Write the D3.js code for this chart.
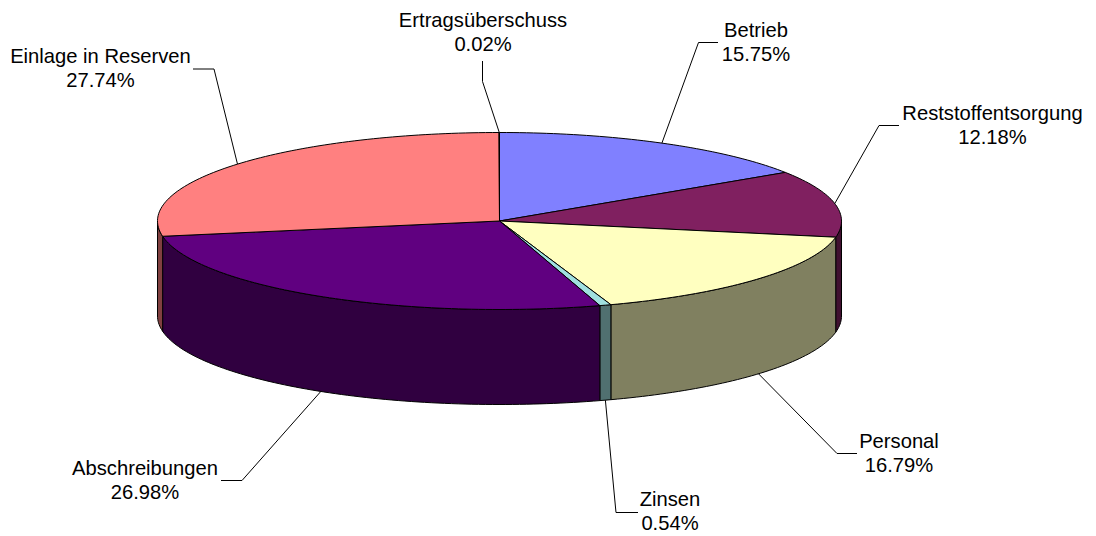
<!DOCTYPE html>
<html>
<head>
<meta charset="utf-8">
<script src="https://cdn.jsdelivr.net/npm/d3@7"></script>
<style>
    html, body { margin: 0; padding: 0; background: white; }
    text { font-family: "Liberation Sans", Arial, sans-serif; font-size: 20.2px; fill: black; }
</style>
</head>
<body>
<div id="chart"></div>
<script>
// data, clockwise from the top
var categories = ["Betrieb", "Reststoffentsorgung", "Personal", "Zinsen", "Abschreibungen", "Einlage in Reserven", "Ertragsüberschuss"];
var shares = [15.75, 12.18, 16.79, 0.54, 26.98, 27.74, 0.02];
var topColors = ["#8080ff", "#802060", "#ffffc0", "#a0e0e0", "#600080", "#ff8080", "#c0c0ff"];
var sideColors = ["#404080", "#401030", "#808060", "#507070", "#300040", "#804040", "#606080"];

// leader elbow and end, label centre and first baseline for each slice
var labelLayout = [
    {elbow: [698.5, 42.5], end: [718, 42.5], x: 756, y: 37},
    {elbow: [879, 125.5], end: [899, 125.5], x: 992.5, y: 120},
    {elbow: [837, 453.5], end: [857, 453.5], x: 899, y: 448},
    {elbow: [616, 512.5], end: [638, 512.5], x: 670, y: 506},
    {elbow: [242, 480.5], end: [221, 480.5], x: 145, y: 475},
    {elbow: [214, 69], end: [193, 69], x: 100.5, y: 63},
    {elbow: [482.5, 81.5], end: [482.5, 61], x: 483, y: 27}
];

var width = 1096,
    height = 536;
var rx = 342,
    ry = 88.5,
    cx = 499.5,
    cy = 221,
    depth = 95;

// unit circle to screen
var x = d3.scaleLinear().domain([-1, 1]).range([cx - rx, cx + rx]);
var y = d3.scaleLinear().domain([-1, 1]).range([cy - ry, cy + ry]);

var pie = d3.pie().sort(null).value(function(d) { return d; });
var arcs = pie(shares);

var svg = d3.select("#chart")
    .append("svg")
    .attr("width", width)
    .attr("height", height)
    .style("display", "block");

var line = d3.line();

function rim(a0, a1, dy) {
    var n = Math.max(2, Math.ceil((a1 - a0) / 0.02));
    return d3.range(n + 1).map(function(i) {
        var a = a0 + (a1 - a0) * i / n;
        return [x(Math.sin(a)), y(-Math.cos(a)) + dy];
    });
}

// outer wall, only the part that faces the viewer
var front0 = Math.PI / 2,
    front1 = Math.PI * 3 / 2;

arcs.forEach(function(d, i) {
    var a0 = Math.max(d.startAngle, front0),
        a1 = Math.min(d.endAngle, front1);
    if (a1 <= a0) return;
    var pts = rim(a0, a1, 0).concat(rim(a0, a1, depth).reverse());
    svg.append("path")
        .attr("d", line(pts) + "Z")
        .attr("fill", sideColors[i])
        .attr("stroke", "black")
        .attr("stroke-width", 1)
        .attr("stroke-linejoin", "round");
});

// top face
arcs.forEach(function(d, i) {
    var pts = [[x(0), y(0)]].concat(rim(d.startAngle, d.endAngle, 0));
    svg.append("path")
        .attr("d", line(pts) + "Z")
        .attr("fill", topColors[i])
        .attr("stroke", "black")
        .attr("stroke-width", 1)
        .attr("stroke-linejoin", "round");
});

// leaders and labels
arcs.forEach(function(d, i) {
    var mid = (d.startAngle + d.endAngle) / 2;
    var onFront = Math.cos(mid) < 0;
    var start = [x(Math.sin(mid)), y(-Math.cos(mid)) + (onFront ? depth : 0)];
    var l = labelLayout[i];

    svg.append("path")
        .attr("d", line([start, l.elbow, l.end]))
        .attr("fill", "none")
        .attr("stroke", "black")
        .attr("stroke-width", 1);

    var label = svg.append("text")
        .attr("text-anchor", "middle")
        .attr("x", l.x)
        .attr("y", l.y);
    label.append("tspan").attr("x", l.x).text(categories[i]);
    label.append("tspan").attr("x", l.x).attr("dy", 24).text(shares[i].toFixed(2) + "%");
});
</script>
</body>
</html>
